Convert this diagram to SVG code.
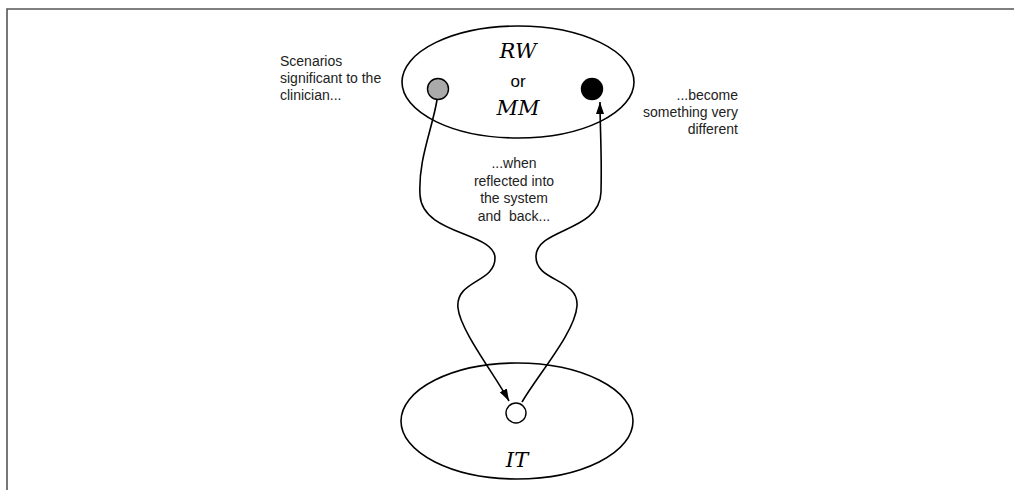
<svg xmlns="http://www.w3.org/2000/svg" width="1018" height="490" viewBox="0 0 1018 490">
<style>
.ell{fill:none;stroke:#000;stroke-width:1.6}
.lbl{font-family:"Liberation Sans",Arial,sans-serif;font-size:14px;fill:#222}
.sym{font-family:"DejaVu Serif","Liberation Serif",serif;font-style:italic;font-size:21px;fill:#000}
.conn{fill:none;stroke:#000;stroke-width:1.6}
.frame{fill:none;stroke:#555;stroke-width:1.6}
</style>
<defs>
<marker id="arr" viewBox="0 0 12 10" refX="12" refY="5" markerWidth="12" markerHeight="10" markerUnits="userSpaceOnUse" orient="auto">
<path d="M0,1 L12,5 L0,9 z" fill="#000"/>
</marker>
</defs>
<rect width="1018" height="490" fill="#fff"/>
<path class="frame" d="M1014 9 H7 V490"/>
<g id="top-world">
<ellipse class="ell" cx="518" cy="82" rx="116" ry="56"/>
<text class="sym" x="518" y="58" text-anchor="middle">RW</text>
<text class="lbl" x="518" y="87" text-anchor="middle" style="font-size:17px;fill:#000">or</text>
<text class="sym" x="518" y="115" text-anchor="middle">MM</text>
</g>
<g id="gray-point"><circle cx="438" cy="89" r="10.5" fill="#aaa" stroke="#000" stroke-width="1.4"/></g>
<g id="black-point"><circle cx="592" cy="89" r="10.5" fill="#000" stroke="#000" stroke-width="1.4"/></g>
<g id="it-system">
<ellipse class="ell" cx="517" cy="421" rx="116" ry="58"/>
<text class="sym" x="517" y="467" text-anchor="middle">IT</text>
</g>
<g id="white-point"><circle cx="516" cy="413" r="10" fill="#fff" stroke="#000" stroke-width="1.4"/></g>
<g id="label-left"><text class="lbl" x="280" y="66">Scenarios</text><text class="lbl" x="280" y="83">significant to the</text><text class="lbl" x="280" y="100">clinician...</text></g>
<g id="label-right"><text class="lbl" x="738" y="100" text-anchor="end">...become</text><text class="lbl" x="738" y="117" text-anchor="end">something very</text><text class="lbl" x="738" y="134" text-anchor="end">different</text></g>
<g id="label-middle"><text class="lbl" x="514" y="168" text-anchor="middle">...when</text><text class="lbl" x="514" y="186" text-anchor="middle">reflected into</text><text class="lbl" x="514" y="203" text-anchor="middle">the system</text><text class="lbl" x="514" y="221" text-anchor="middle" style="white-space:pre">and  back...</text></g>
<g id="connectors">
<path class="conn" marker-end="url(#arr)" d="M437 100 C432 130 418 160 420 195 C422 235 495 232 495 258 C495 283 455 280 458 308 C460 330 495 375 509 401"/>
<path class="conn" marker-end="url(#arr)" d="M522 402 C540 372 575 332 577 306 C579 278 535 282 536 256 C537 228 600 232 601 192 C602 152 600 130 600 102"/>
</g>
</svg>
